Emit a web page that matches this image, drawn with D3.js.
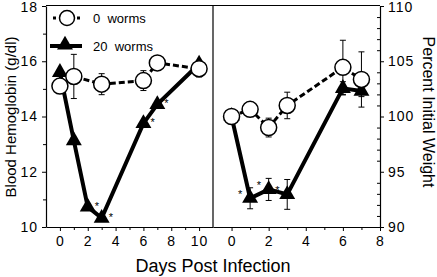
<!DOCTYPE html>
<html><head><meta charset="utf-8">
<script src="https://cdn.jsdelivr.net/npm/d3@7"></script>
<style>body{margin:0;background:#fff}svg{display:block}text{font-family:"Liberation Sans",Arial,sans-serif;fill:#000}</style>
</head><body><svg id="c" width="437" height="277"></svg>
<script>
// Left panel: blood hemoglobin (g/dl)
const hbDays0 = [0, 1, 3, 6, 7, 10];
const hb0 = [15.1, 15.45, 15.17, 15.3, 15.94, 15.73];
const hb0Err = [0.1, 0.8, 0.38, 0.36, 0.2, 0.3];
const hbDays20 = [0, 1, 2, 3, 6, 7, 10];
const hb20 = [15.6, 13.13, 10.73, 10.32, 13.75, 14.44, 15.9];
const hb20Err = [0.1, 0.1, 0.1, 0.1, 0.1, 0.1, 0.1];
const hbStars = [2, 3, 6, 7];
// Right panel: percent initial weight
const wtDays0 = [0, 1, 2, 3, 6, 7];
const wt0 = [100.0, 100.65, 99.0, 101.0, 104.45, 103.35];
const wt0Err = [0.2, 0.2, 0.85, 1.2, 2.45, 2.5];
const wtDays20 = [0, 1, 2, 3, 6, 7];
const wt20 = [100.0, 92.6, 93.4, 92.95, 102.55, 102.3];
const wt20Err = [0.2, 0.95, 1.0, 1.35, 0.6, 0.5];
const wtStars = [1, 2, 3];
// Axes
const hbTicks = [10, 12, 14, 16, 18];
const wtTicks = [90, 95, 100, 105, 110];
const xTicksL = [0, 2, 4, 6, 8, 10];
const xTicksR = [0, 2, 4, 6, 8];
const legendLabels = ["0  worms", "20  worms"];

const svg = d3.select("#c");
const xL = d3.scaleLinear().domain([-1, 11]).range([46, 213]);
const xR = d3.scaleLinear().domain([-1, 8]).range([213, 380]);
const yL = d3.scaleLinear().domain([10, 18]).range([227, 6]);
const yR = d3.scaleLinear().domain([90, 110]).range([227, 6]);

function styleAxis(g, fs) {
  g.select(".domain").attr("stroke", "#000").attr("stroke-width", 1.2);
  g.selectAll(".tick line").attr("stroke", "#000").attr("stroke-width", 1);
  g.selectAll("text").attr("font-size", fs).attr("fill", "#000").attr("font-family", "Liberation Sans, Arial, sans-serif").style("letter-spacing", "1px");
}
function minor(g) { g.selectAll("text").remove(); g.select(".domain").remove(); g.selectAll(".tick line").attr("stroke","#000"); }

// left y axis
svg.append("g").attr("transform", "translate(46,0)")
  .call(d3.axisLeft(yL).tickValues(d3.range(11, 18, 2)).tickSize(3)).call(minor);
svg.append("g").attr("transform", "translate(46,0)")
  .call(d3.axisLeft(yL).tickValues(hbTicks).tickSize(4).tickPadding(4).tickSizeOuter(0)).call(g => styleAxis(g, 14))
  .selectAll("text").filter(d => d === 18).attr("dy", "0.42em");
// right y axis
svg.append("g").attr("transform", "translate(380,0)")
  .call(d3.axisRight(yR).tickValues(d3.range(91, 110).filter(v => v % 5)).tickSize(-3)).call(minor);
svg.append("g").attr("transform", "translate(380,0)")
  .call(d3.axisRight(yR).tickValues(wtTicks).tickSize(4).tickPadding(4).tickSizeOuter(0)).call(g => styleAxis(g, 14))
  .selectAll("text").filter(d => d === 110).attr("dy", "0.42em");
// bottom axes
svg.append("g").attr("transform", "translate(0,227)")
  .call(d3.axisBottom(xL).tickValues(d3.range(1, 11, 2)).tickSize(3)).call(minor);
svg.append("g").attr("transform", "translate(0,227)")
  .call(d3.axisBottom(xL).tickValues(xTicksL).tickSize(4).tickPadding(5).tickSizeOuter(0)).call(g => styleAxis(g, 14));
svg.append("g").attr("transform", "translate(0,227)")
  .call(d3.axisBottom(xR).tickValues(d3.range(1, 8, 2)).tickSize(3)).call(minor);
svg.append("g").attr("transform", "translate(0,227)")
  .call(d3.axisBottom(xR).tickValues(xTicksR).tickSize(4).tickPadding(5).tickSizeOuter(0)).call(g => styleAxis(g, 14));

// frame: top line and divider
svg.append("line").attr("x1", 46).attr("x2", 380).attr("y1", 5.5).attr("y2", 5.5).attr("stroke", "#000").attr("stroke-width", 1.2);
svg.append("line").attr("x1", 213).attr("x2", 213).attr("y1", 5.5).attr("y2", 227).attr("stroke", "#000").attr("stroke-width", 1.2);

const tri = d3.symbol().type(d3.symbolTriangle).size(110);

function series(x, y, days, vals, errs, kind) {
  const g = svg.append("g");
  const pts = days.map((d, i) => ({ d, v: vals[i], e: errs[i] }));
  pts.forEach(p => {
    const eg = g.append("g").attr("stroke", "#000").attr("stroke-width", 1);
    eg.append("line").attr("x1", x(p.d)).attr("x2", x(p.d)).attr("y1", y(p.v - p.e)).attr("y2", y(p.v + p.e));
    [p.v - p.e, p.v + p.e].forEach(v => eg.append("line").attr("x1", x(p.d) - 3).attr("x2", x(p.d) + 3).attr("y1", y(v)).attr("y2", y(v)));
  });
  const line = d3.line().x(p => x(p.d)).y(p => y(p.v));
  if (kind === "tri") {
    g.append("path").attr("d", line(pts)).attr("fill", "none").attr("stroke", "#000").attr("stroke-width", 4);
    g.selectAll(".m").data(pts).join("path").attr("d", tri).attr("fill", "#000")
      .attr("transform", p => `translate(${x(p.d)},${y(p.v)})`);
  } else {
    g.append("path").attr("d", line(pts)).attr("fill", "none").attr("stroke", "#000").attr("stroke-width", 3).attr("stroke-dasharray", "6,3");
    g.selectAll(".m").data(pts).join("circle").attr("cx", p => x(p.d)).attr("cy", p => y(p.v)).attr("r", 8)
      .attr("fill", "#fff").attr("stroke", "#000").attr("stroke-width", 1.5);
  }
}
series(xL, yL, hbDays20, hb20, hb20Err, "tri");
series(xL, yL, hbDays0, hb0, hb0Err, "circ");
series(xR, yR, wtDays20, wt20, wt20Err, "tri");
series(xR, yR, wtDays0, wt0, wt0Err, "circ");

// asterisks
hbStars.forEach(d => {
  const i = hbDays20.indexOf(d);
  svg.append("text").attr("x", xL(d) + 7).attr("y", yL(hb20[i]) + 3).attr("font-size", 11).attr("fill", "#000").text("*");
});
wtStars.forEach(d => {
  const i = wtDays20.indexOf(d);
  svg.append("text").attr("x", xR(d) - 12).attr("y", yR(wt20[i]) + 0).attr("font-size", 11).attr("fill", "#000").text("*");
});

// legend
const lg = svg.append("g");
lg.append("line").attr("x1", 53).attr("x2", 81).attr("y1", 18).attr("y2", 18).attr("stroke", "#000").attr("stroke-width", 3).attr("stroke-dasharray", "3,3");
lg.append("circle").attr("cx", 67).attr("cy", 18).attr("r", 7.5).attr("fill", "#fff").attr("stroke", "#000").attr("stroke-width", 1.5);
lg.append("line").attr("x1", 50).attr("x2", 82).attr("y1", 46).attr("y2", 46).attr("stroke", "#000").attr("stroke-width", 4);
lg.append("path").attr("d", tri).attr("transform", "translate(65,45)").attr("fill", "#000");
lg.append("text").attr("x", 93).attr("y", 23).attr("font-size", 13).style("white-space", "pre").text(legendLabels[0]);
lg.append("text").attr("x", 93).attr("y", 51).attr("font-size", 13).style("white-space", "pre").text(legendLabels[1]);

// titles
svg.append("text").attr("x", 213).attr("y", 272).attr("text-anchor", "middle").attr("font-size", 18).text("Days Post Infection");
svg.append("text").attr("transform", "translate(16,117) rotate(-90)").attr("text-anchor", "middle").attr("font-size", 15).text("Blood Hemoglobin (g/dl)");
svg.append("text").attr("transform", "translate(423,112) rotate(90)").attr("text-anchor", "middle").attr("font-size", 16).text("Percent Initial Weight");
</script></body></html>
